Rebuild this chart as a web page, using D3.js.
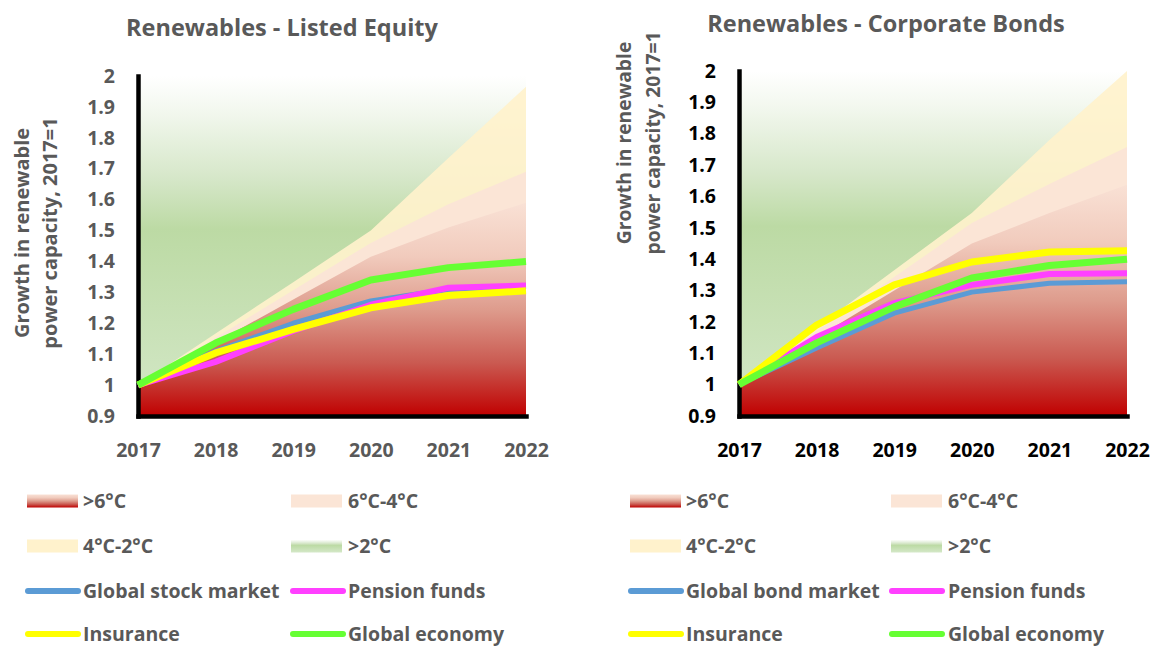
<!DOCTYPE html>
<html>
<head>
<meta charset="utf-8">
<script src="https://cdn.jsdelivr.net/npm/d3@7"></script>
<style>
  body { margin: 0; background: #fff; }
  svg text { font-family: "Open Sans", Lato, sans-serif; font-weight: 700; }
</style>
</head>
<body>
<div id="chart"></div>
<script>
// renewables growth, two panels

const FRAME_WIDTH = 1156;
const FRAME_HEIGHT = 648;

const years = [2017, 2018, 2019, 2020, 2021, 2022];
const yTicks = [0.9, 1, 1.1, 1.2, 1.3, 1.4, 1.5, 1.6, 1.7, 1.8, 1.9, 2];

// listed equity: scenario band tops
const equityBand6 = [1.0, 1.138, 1.277, 1.415, 1.51, 1.59];
const equityBand4 = [1.0, 1.153, 1.307, 1.46, 1.585, 1.69];
const equityBand2 = [1.0, 1.167, 1.333, 1.50, 1.735, 1.965];
// listed equity: portfolios
const equityMarket = [1.0, 1.11, 1.20, 1.272, 1.31, 1.32];
const equityPension = [1.0, 1.075, 1.175, 1.26, 1.315, 1.322];
const equityInsurance = [1.0, 1.104, 1.18, 1.25, 1.29, 1.305];
const equityEconomy = [1.0, 1.136, 1.245, 1.34, 1.38, 1.40];

// corporate bonds: scenario band tops
const bondBand6 = [1.0, 1.15, 1.30, 1.45, 1.547, 1.637];
const bondBand4 = [1.0, 1.172, 1.343, 1.515, 1.64, 1.758];
const bondBand2 = [1.0, 1.182, 1.365, 1.547, 1.78, 2.0];
// corporate bonds: portfolios
const bondMarket = [1.0, 1.117, 1.228, 1.295, 1.323, 1.328];
const bondPension = [1.0, 1.152, 1.26, 1.318, 1.353, 1.355];
const bondInsurance = [1.0, 1.19, 1.318, 1.391, 1.423, 1.427];
const bondEconomy = [1.0, 1.133, 1.248, 1.34, 1.38, 1.40];

const scenarioLabels = [">6°C", "6°C-4°C", "4°C-2°C", ">2°C"];

const RED_STOPS = [[0, "#c00000"], [0.25, "#ca5a51"], [0.5, "#de9c8d"], [0.75, "#f1cbbd"], [1, "#f9e1d5"]];
const GREEN_STOPS = [[0, "#ffffff"], [0.1, "#f3f8ef"], [0.3, "#d6e7c9"], [0.45, "#bcdaa4"], [1, "#d4e8c8"]];
const PEACH = "#fbe5d6";
const YELLOW_BAND = "#fff2cc";
const COLORS = {market: "#5b9bd5", pension: "#ff40ff", insurance: "#ffff00", economy: "#66ff33"};

const panels = [
  {
    id: "eq", title: "Renewables - Listed Equity", titleX: 282, titleY: 36,
    left: 138, right: 526, top: 76, bottom: 416,
    textColor: "#595959", tickColor: "#595959",
    yLabelX: [22, 50], yLabelY: 233, yLabelSize: 20,
    band6: equityBand6, band4: equityBand4, band2: equityBand2,
    market: equityMarket, pension: equityPension, insurance: equityInsurance, economy: equityEconomy,
    marketLabel: "Global stock market",
    legend: {sw1: 27, tx1: 83, sw2: 291, tx2: 348, ln1: 25, ln2: 290}
  },
  {
    id: "bd", title: "Renewables - Corporate Bonds", titleX: 886, titleY: 32,
    left: 739, right: 1127, top: 71, bottom: 416,
    textColor: "#595959", tickColor: "#000000",
    yLabelX: [624, 653], yLabelY: 143, yLabelSize: 19.3,
    band6: bondBand6, band4: bondBand4, band2: bondBand2,
    market: bondMarket, pension: bondPension, insurance: bondInsurance, economy: bondEconomy,
    marketLabel: "Global bond market",
    legend: {sw1: 630, tx1: 686, sw2: 891, tx2: 948, ln1: 628, ln2: 889}
  }
];

const LEGEND_ROWS = [501, 546, 591, 634];

const svg = d3.select("#chart")
  .append("svg")
    .attr("width", FRAME_WIDTH)
    .attr("height", FRAME_HEIGHT);

const defs = svg.append("defs");

function addGradient(id, stops, coords, units) {
  const g = defs.append("linearGradient")
    .attr("id", id)
    .attr("gradientUnits", units)
    .attr("x1", coords[0]).attr("y1", coords[1])
    .attr("x2", coords[2]).attr("y2", coords[3]);
  stops.forEach(s => {
    g.append("stop").attr("offset", s[0]).attr("stop-color", s[1]);
  });
}

// legend swatch gradients
addGradient("red-swatch", RED_STOPS, [0, 1, 0, 0], "objectBoundingBox");
addGradient("green-swatch", GREEN_STOPS, [0, 0, 0, 1], "objectBoundingBox");

function drawPanel(p) {
  const yMin = yTicks[0];
  const yMax = yTicks[yTicks.length - 1];

  const X_SCALE = d3.scalePoint()
    .domain(years)
    .range([p.left, p.right]);

  const Y_SCALE = d3.scaleLinear()
    .domain([yMin, yMax])
    .range([p.bottom, p.top]);

  const g = svg.append("g").attr("class", "panel-" + p.id);

  // gradients in chart coordinates
  addGradient("red-" + p.id, RED_STOPS,
    [0, Y_SCALE(yMin), 0, Y_SCALE(d3.max(p.band6))], "userSpaceOnUse");
  addGradient("green-" + p.id, GREEN_STOPS,
    [0, Y_SCALE(yMax), 0, Y_SCALE(yMin)], "userSpaceOnUse");

  const area = d3.area()
    .x((d, i) => X_SCALE(years[i]))
    .y0(Y_SCALE(yMin))
    .y1(d => Y_SCALE(d));

  // >2°C fills the whole plot, the lower bands cover it
  g.append("path")
    .datum(years.map(() => yMax))
    .attr("d", area)
    .attr("fill", "url(#green-" + p.id + ")");

  g.append("path")
    .datum(p.band2)
    .attr("d", area)
    .attr("fill", YELLOW_BAND)
    .attr("fill-opacity", 0.92);

  g.append("path")
    .datum(p.band4)
    .attr("d", area)
    .attr("fill", PEACH);

  g.append("path")
    .datum(p.band6)
    .attr("d", area)
    .attr("fill", "url(#red-" + p.id + ")");

  // axes
  const yAxis = d3.axisLeft(Y_SCALE)
    .tickValues(yTicks)
    .tickFormat(d => String(d))
    .tickSize(0)
    .tickPadding(23);

  const yG = g.append("g")
    .attr("transform", "translate(" + p.left + ",0)")
    .call(yAxis);

  const xAxis = d3.axisBottom(X_SCALE)
    .tickSize(0)
    .tickPadding(27);

  const xG = g.append("g")
    .attr("transform", "translate(0," + p.bottom + ")")
    .call(xAxis);

  [yG, xG].forEach(a => {
    a.select(".domain")
      .attr("stroke", "#000")
      .attr("stroke-width", 4.5)
      .attr("stroke-linecap", "square");
    a.selectAll("text")
      .attr("fill", p.tickColor)
      .attr("font-size", 19.5)
      .attr("font-family", "'Open Sans', Lato, sans-serif")
      .attr("font-weight", 700);
  });

  // portfolio lines
  const line = d3.line()
    .x((d, i) => X_SCALE(years[i]))
    .y(d => Y_SCALE(d))
    .curve(d3.curveLinear);

  const series = [
    {values: p.market, color: COLORS.market, width: 5},
    {values: p.pension, color: COLORS.pension, width: 6},
    {values: p.insurance, color: COLORS.insurance, width: 7},
    {values: p.economy, color: COLORS.economy, width: 7}
  ];

  g.selectAll(".series")
    .data(series)
    .enter()
    .append("path")
      .attr("class", "series")
      .attr("d", d => line(d.values))
      .attr("fill", "none")
      .attr("stroke", d => d.color)
      .attr("stroke-width", d => d.width)
      .attr("stroke-linejoin", "round");

  // title
  g.append("text")
    .attr("x", p.titleX)
    .attr("y", p.titleY)
    .attr("text-anchor", "middle")
    .attr("font-size", 23.5)
    .attr("fill", p.textColor)
    .text(p.title);

  // y axis title, two lines
  ["Growth in renewable", "power capacity, 2017=1"].forEach((t, i) => {
    g.append("text")
      .attr("transform", "translate(" + p.yLabelX[i] + "," + p.yLabelY + ") rotate(-90)")
      .attr("text-anchor", "middle")
      .attr("dy", "0.35em")
      .attr("font-size", p.yLabelSize)
      .attr("fill", p.textColor)
      .text(t);
  });

  // legend
  const L = p.legend;
  const items = [
    {label: scenarioLabels[0], kind: "box", fill: "url(#red-swatch)", col: 0, row: 0},
    {label: scenarioLabels[1], kind: "box", fill: PEACH, col: 1, row: 0},
    {label: scenarioLabels[2], kind: "box", fill: YELLOW_BAND, col: 0, row: 1},
    {label: scenarioLabels[3], kind: "box", fill: "url(#green-swatch)", col: 1, row: 1},
    {label: p.marketLabel, kind: "line", fill: COLORS.market, col: 0, row: 2},
    {label: "Pension funds", kind: "line", fill: COLORS.pension, col: 1, row: 2},
    {label: "Insurance", kind: "line", fill: COLORS.insurance, col: 0, row: 3},
    {label: "Global economy", kind: "line", fill: COLORS.economy, col: 1, row: 3}
  ];

  const leg = g.append("g").attr("class", "legend");

  items.forEach(it => {
    const cy = LEGEND_ROWS[it.row];
    if (it.kind === "box") {
      leg.append("rect")
        .attr("x", it.col === 0 ? L.sw1 : L.sw2)
        .attr("y", cy - 6.5)
        .attr("width", 51)
        .attr("height", 13)
        .attr("fill", it.fill);
    } else {
      const x0 = it.col === 0 ? L.ln1 : L.ln2;
      leg.append("line")
        .attr("x1", x0 + 3).attr("x2", x0 + 53)
        .attr("y1", cy).attr("y2", cy)
        .attr("stroke", it.fill)
        .attr("stroke-width", 6)
        .attr("stroke-linecap", "round");
    }
    leg.append("text")
      .attr("x", it.col === 0 ? L.tx1 : L.tx2)
      .attr("y", cy)
      .attr("dy", "0.35em")
      .attr("font-size", 19.5)
      .attr("fill", p.textColor)
      .text(it.label);
  });
}

panels.forEach(drawPanel);
</script>
</body>
</html>
